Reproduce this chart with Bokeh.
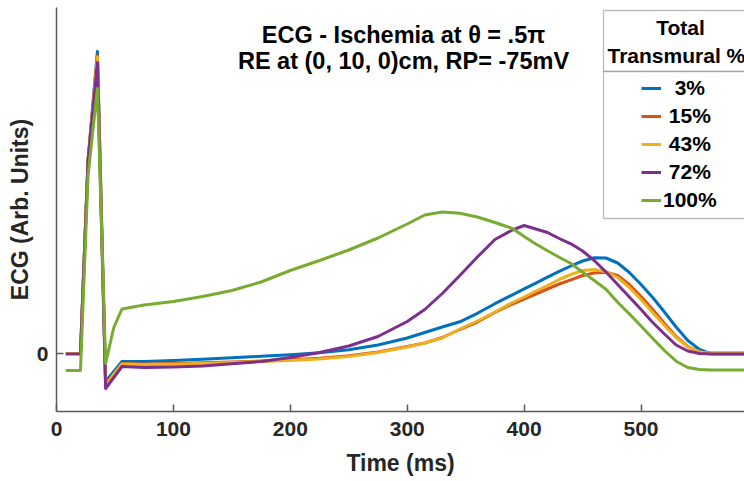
from bokeh.plotting import figure
from bokeh.models import Legend, LegendItem, Label, BoxAnnotation, FixedTicker, Range1d
from bokeh.embed import file_html
from bokeh.resources import INLINE

# ---------------- data ----------------
time_ms = [8, 20.5, 27, 35, 42, 49, 56, 75, 100, 125, 150, 175, 200, 225, 250, 275,
           300, 315, 330, 345, 360, 375, 390, 400, 410, 420, 430, 440, 450, 460, 470,
           480, 490, 500, 510, 520, 530, 540, 550, 560, 575, 590]

ecg_3 = [0, 0, 1.93, 3.02, -0.28, -0.18, -0.08, -0.08, -0.07, -0.058, -0.043, -0.028,
         -0.013, 0.007, 0.037, 0.085, 0.155, 0.21, 0.265, 0.317, 0.402, 0.498, 0.587,
         0.646, 0.704, 0.763, 0.822, 0.875, 0.925, 0.957, 0.955, 0.905, 0.81, 0.69,
         0.56, 0.415, 0.265, 0.13, 0.04, -0.003, -0.003, -0.003]
ecg_15 = [0, 0, 1.93, 2.98, -0.31, -0.205, -0.10, -0.105, -0.10, -0.093, -0.085, -0.075,
          -0.063, -0.048, -0.023, 0.015, 0.07, 0.105, 0.16, 0.24, 0.315, 0.41, 0.495,
          0.545, 0.595, 0.645, 0.695, 0.737, 0.78, 0.805, 0.812, 0.78, 0.69, 0.57,
          0.44, 0.30, 0.17, 0.07, 0.015, 0.005, 0.005, 0.005]
ecg_43 = [0, 0, 1.93, 2.965, -0.32, -0.21, -0.105, -0.11, -0.108, -0.10, -0.09, -0.08,
          -0.07, -0.055, -0.03, 0.01, 0.065, 0.105, 0.155, 0.245, 0.325, 0.415, 0.51,
          0.565, 0.625, 0.68, 0.74, 0.79, 0.83, 0.84, 0.82, 0.76, 0.66, 0.54,
          0.41, 0.28, 0.16, 0.065, 0.015, 0, 0, 0]
ecg_72 = [-0.005, -0.005, 1.93, 2.91, -0.35, -0.24, -0.13, -0.14, -0.135, -0.125, -0.103,
          -0.08, -0.04, 0.01, 0.075, 0.17, 0.32, 0.44, 0.60, 0.78, 0.965, 1.14, 1.235,
          1.28, 1.245, 1.21, 1.15, 1.097, 1.025, 0.93, 0.815, 0.69, 0.565, 0.44,
          0.31, 0.195, 0.085, 0.025, 0, -0.005, -0.005, -0.005]
ecg_100 = [-0.17, -0.17, 1.78, 2.65, -0.10, 0.26, 0.445, 0.485, 0.52, 0.57, 0.63, 0.715,
           0.83, 0.93, 1.035, 1.155, 1.295, 1.385, 1.415, 1.402, 1.365, 1.31, 1.25,
           1.17, 1.095, 1.027, 0.963, 0.90, 0.814, 0.73, 0.643, 0.513, 0.396, 0.275,
           0.15, 0.03, -0.077, -0.14, -0.16, -0.165, -0.165, -0.165]

series = [ecg_3, ecg_15, ecg_43, ecg_72, ecg_100]
series_labels = ["\u00a0\u00a03%", "\u00a015%", "\u00a043%", "\u00a072%", "100%"]
colors = ["#0072BD", "#D95319", "#EDB120", "#7E2F8E", "#77AC30"]
x_ticks = [0, 100, 200, 300, 400, 500]
y_ticks = [0]
y_tick_labels = {0: "0"}

title_lines = ["ECG - Ischemia at \u03b8 = .5\u03c0", "RE at (0, 10, 0)cm, RP= -75mV"]
legend_title = ["Total", "Transmural %"]

# ---------------- layout ----------------
W, H = 744, 481
BL, BR, BT, BB = 56, 0, 7, 70
X0, X1 = 0, 588.5
Y0, Y1 = -0.58, 3.46
FW, FH = W - BL - BR, H - BT - BB

def dx(px):
    return X0 + (px - BL) / FW * (X1 - X0)

def dy(py):
    return Y1 - (py - BT) / FH * (Y1 - Y0)

FONT = "Liberation Sans"
TXT = "#262626"

p = figure(width=W, height=H, output_backend="svg", toolbar_location=None,
           x_range=Range1d(X0, X1), y_range=Range1d(Y0, Y1),
           min_border_left=BL, min_border_right=BR, min_border_top=BT,
           min_border_bottom=BB)
p.outline_line_color = None
p.grid.visible = False
p.background_fill_color = "white"
p.border_fill_color = "white"

renderers = []
for ys, c in zip(series, colors):
    r = p.line(time_ms, ys, line_color=c, line_width=3, line_join="round")
    renderers.append(r)

xa, ya = p.xaxis[0], p.yaxis[0]
xa.ticker = FixedTicker(ticks=x_ticks)
ya.ticker = FixedTicker(ticks=y_ticks)
ya.major_label_overrides = y_tick_labels
for ax in (xa, ya):
    ax.axis_line_color = "#5a5a5a"
    ax.axis_line_width = 1.5
    ax.major_tick_line_color = "#5a5a5a"
    ax.major_tick_line_width = 1.5
    ax.major_tick_in = 7
    ax.major_tick_out = 0
    ax.minor_tick_line_color = None
    ax.major_label_text_font = FONT
    ax.major_label_text_font_style = "bold"
    ax.major_label_text_font_size = "21px"
    ax.major_label_text_color = TXT
    ax.axis_label_text_font = FONT
    ax.axis_label_text_font_style = "bold"
    ax.axis_label_text_font_size = "23px"
    ax.axis_label_text_color = TXT
xa.axis_label = "Time (ms)"
ya.axis_label = "ECG (Arb. Units)"
xa.major_label_standoff = 10
ya.major_label_standoff = 8
xa.axis_label_standoff = 11
ya.axis_label_standoff = 1

# title lines inside the axes
for txt, base in zip(title_lines, [34, 60]):
    p.add_layout(Label(x=dx(403), y=dy(base), text=txt, text_align="center",
                       text_baseline="alphabetic", text_font=FONT,
                       text_font_style="bold", text_font_size="23.5px",
                       text_color="black"))

# legend frame (header + body)
p.add_layout(BoxAnnotation(left=dx(603), right=dx(800), top=dy(10), bottom=dy(71),
                           fill_color="white", fill_alpha=1, line_color=TXT,
                           line_width=1.3))
p.add_layout(BoxAnnotation(left=dx(603), right=dx(800), top=dy(71), bottom=dy(218),
                           fill_color="white", fill_alpha=1, line_color=TXT,
                           line_width=1.3))
p.add_layout(Label(x=dx(680), y=dy(27), text=legend_title[0], text_align="center",
                   text_baseline="alphabetic", text_font=FONT, text_font_style="bold",
                   text_font_size="21px", text_color="black"))
p.add_layout(Label(x=dx(607), y=dy(55), text=legend_title[1], text_align="left",
                   text_baseline="alphabetic", text_font=FONT, text_font_style="bold",
                   text_font_size="21px", text_color="black"))

items = [LegendItem(label=lab, renderers=[r]) for lab, r in zip(series_labels, renderers)]
legend = Legend(items=items, location=(641 - BL, (BT + FH) - 212), orientation="vertical",
                glyph_width=20, glyph_height=20, label_height=20, spacing=4,
                padding=0, margin=0, label_standoff=2,
                border_line_color=None, background_fill_alpha=0,
                label_text_font=FONT, label_text_font_style="bold",
                label_text_font_size="21px", label_text_color="black")
p.add_layout(legend)

open("out.html", "w").write(file_html(p, INLINE))
